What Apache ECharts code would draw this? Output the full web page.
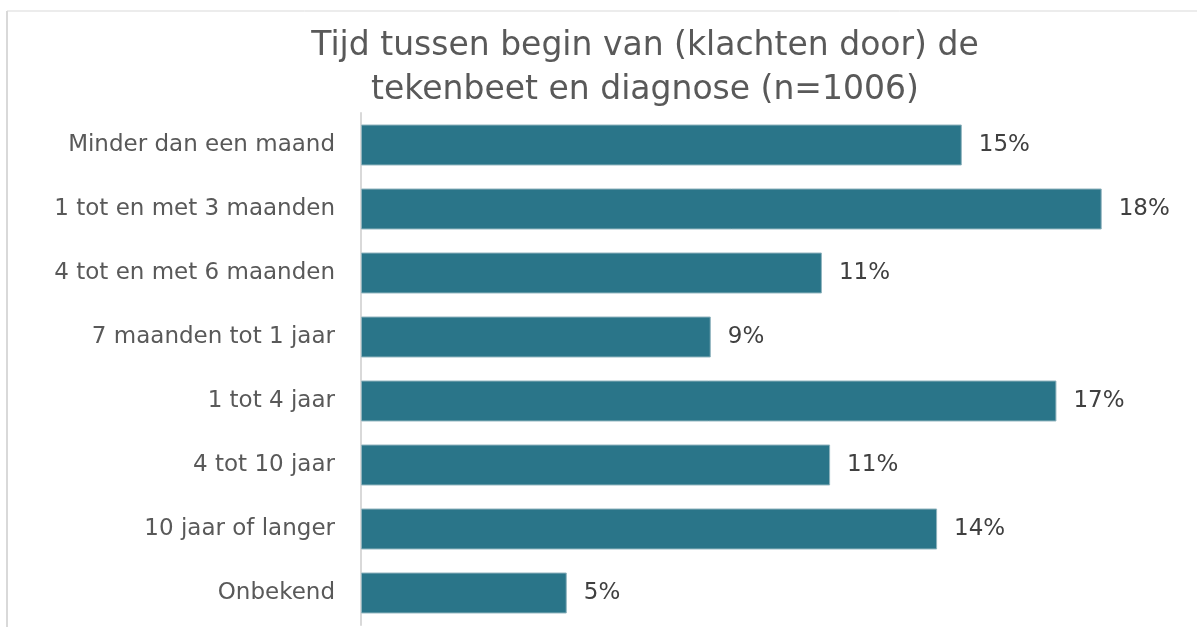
<!DOCTYPE html>
<html>
<head>
<meta charset="utf-8">
<script src="https://cdn.jsdelivr.net/npm/echarts@6/dist/echarts.min.js"></script>
<style>
  html, body { margin: 0; padding: 0; background: #fff; }
  #chart { width: 1197px; height: 627px; }
</style>
</head>
<body>
<div id="chart"></div>
<script>
// categories, top to bottom as shown
const categories = [
  'Minder dan een maand',
  '1 tot en met 3 maanden',
  '4 tot en met 6 maanden',
  '7 maanden tot 1 jaar',
  '1 tot 4 jaar',
  '4 tot 10 jaar',
  '10 jaar of langer',
  'Onbekend'
];
// percentages
const percentages = [14.6, 18.0, 11.2, 8.5, 16.9, 11.4, 14.0, 5.0];

const titleText = 'Tijd tussen begin van (klachten door) de\ntekenbeet en diagnose (n=1006)';
const fontFamily = 'DejaVu Sans';

const chart = echarts.init(document.getElementById('chart'));

const option = {
  backgroundColor: '#ffffff',
  animation: false,
  title: {
    text: titleText,
    // title sits a bit right of the page centre in the original
    left: 640,
    textAlign: 'center',
    top: 19,
    textStyle: {
      fontFamily: fontFamily,
      fontSize: 33,
      fontWeight: 'normal',
      color: '#595959',
      lineHeight: 44
    }
  },
  // chart area border (top + left only visible)
  graphic: [
    { type: 'line', shape: { x1: 7, y1: 11, x2: 1197, y2: 11 }, style: { stroke: '#d9d9d9', lineWidth: 1 } },
    { type: 'line', shape: { x1: 7, y1: 11, x2: 7, y2: 627 }, style: { stroke: '#d9d9d9', lineWidth: 2 } }
  ],
  grid: {
    left: 361,
    top: 113,
    width: 823,
    height: 512
  },
  xAxis: {
    type: 'value',
    min: 0,
    max: 20,
    show: false
  },
  yAxis: {
    type: 'category',
    data: categories,
    inverse: true,
    axisLine: { show: true, lineStyle: { color: '#d9d9d9', width: 2 } },
    axisTick: { show: false },
    axisLabel: {
      fontFamily: fontFamily,
      fontSize: 23,
      color: '#595959',
      margin: 26,
      padding: [7, 0, 0, 0]
    }
  },
  series: [{
    type: 'bar',
    data: percentages,
    barCategoryGap: '36%',
    itemStyle: {
      color: '#2a7589',
      borderColor: '#8fb3bd',
      borderWidth: 1
    },
    label: {
      show: true,
      position: 'right',
      distance: 17,
      fontFamily: fontFamily,
      fontSize: 23,
      color: '#404040',
      padding: [7, 0, 0, 0],
      formatter: p => Math.round(p.value) + '%'
    }
  }]
};

chart.setOption(option);
</script>
</body>
</html>
